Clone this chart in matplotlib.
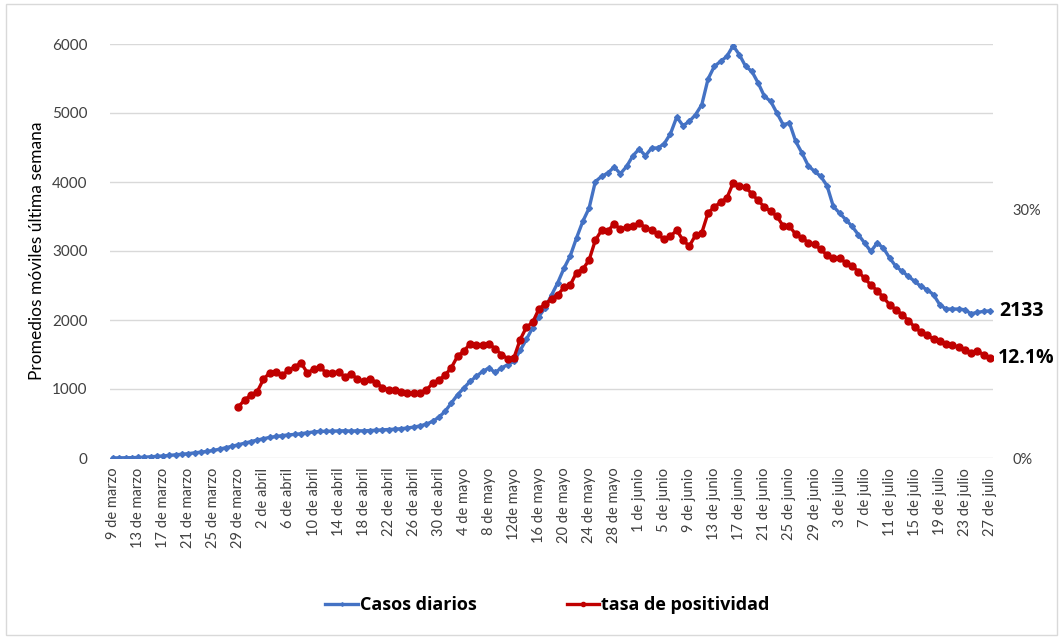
import numpy as np
import matplotlib
matplotlib.use("Agg")
import matplotlib.pyplot as plt
from matplotlib.patches import Rectangle

plt.rcParams['font.family'] = ['Lato', 'DejaVu Sans']

# promedio movil de casos diarios, 9 de marzo a 27 de julio
casos = [1, 2, 3, 5, 8, 12, 18, 24, 30, 38,
         45, 55, 63, 75, 85, 95, 110, 128, 150, 170,
         192, 215, 238, 260, 280, 298, 312, 325, 335, 342,
         352, 365, 378, 385, 388, 390, 392, 395, 390, 395,
         393, 398, 402, 408, 412, 418, 425, 435, 448, 465,
         490, 530, 590, 675, 797, 917, 1014, 1110, 1183, 1255,
         1304, 1241, 1304, 1352, 1400, 1560, 1720, 1890, 2050, 2180,
         2360, 2540, 2750, 2930, 3190, 3430, 3620, 4006, 4081, 4130,
         4217, 4120, 4226, 4381, 4478, 4381, 4493, 4493, 4555, 4700,
         4942, 4816, 4878, 4975, 5120, 5493, 5676, 5748, 5820, 5975,
         5845, 5676, 5603, 5435, 5241, 5169, 5000, 4830, 4855, 4588,
         4420, 4236, 4154, 4081, 3946, 3646, 3551, 3454, 3357, 3237,
         3116, 2994, 3116, 3043, 2898, 2777, 2705, 2632, 2560, 2487,
         2439, 2367, 2222, 2159, 2159, 2159, 2149, 2091, 2110, 2125,
         2133]

# tasa de positividad (%), empieza el 29 de marzo
nan = np.nan
positividad = [nan] * 20 + [
    6.2, 7.0, 7.6, 8.0, 9.5, 10.3, 10.4, 10.0, 10.6, 11.0,
    11.5, 10.3, 10.7, 11.0, 10.3, 10.3, 10.4, 9.8, 10.2, 9.5,
    9.3, 9.6, 9.1, 8.5, 8.2, 8.2, 8.0, 7.8, 7.8, 7.9,
    8.2, 9.0, 9.4, 10.0, 10.9, 12.3, 12.9, 13.8, 13.6, 13.6,
    13.8, 13.2, 12.5, 12.0, 12.1, 14.3, 15.8, 16.4, 18.0, 18.6,
    19.2, 19.7, 20.6, 20.9, 22.4, 22.8, 23.9, 26.3, 27.5, 27.4,
    28.3, 27.6, 27.9, 28.0, 28.4, 27.8, 27.5, 27.0, 26.4, 26.8,
    27.5, 26.3, 25.6, 26.9, 27.2, 29.6, 30.3, 30.9, 31.4, 33.2,
    32.9, 32.7, 31.9, 31.1, 30.3, 29.8, 29.2, 28.0, 28.0, 27.0,
    26.6, 26.0, 25.8, 25.2, 24.5, 24.1, 24.1, 23.6, 23.2, 22.5,
    21.7, 20.9, 20.2, 19.4, 18.5, 17.9, 17.3, 16.6, 15.8, 15.2,
    14.8, 14.4, 14.1, 13.8, 13.6, 13.4, 13.1, 12.7, 12.9, 12.5,
    12.1]

etiquetas = ["9 de marzo", "13 de marzo", "17 de marzo", "21 de marzo", "25 de marzo",
             "29 de marzo", "2 de abril", "6 de abril", "10 de abril", "14 de abril",
             "18 de abril", "22 de abril", "26 de abril", "30 de abril", "4 de mayo",
             "8 de mayo", "12de mayo", "16 de mayo", "20 de mayo", "24 de mayo",
             "28 de mayo", "1 de junio", "5 de junio", "9 de junio", "13 de junio",
             "17 de junio", "21 de junio", "25 de junio", "29 de junio", "3 de julio",
             "7 de julio", "11 de julio", "15 de julio", "19 de julio", "23 de julio",
             "27 de julio"]

azul = '#4472C4'
rojo = '#C00000'
gris = '#404040'
negrita = ['Open Sans', 'DejaVu Sans']

x = np.arange(len(casos))

fig = plt.figure(figsize=(10.63, 6.38), dpi=100)
fig.patches.append(Rectangle((0.006, 0.004), 0.988, 0.99, transform=fig.transFigure,
                             fill=False, edgecolor='#d9d9d9', linewidth=1))
ax = fig.add_axes([110 / 1063, 1 - 458 / 638, 883 / 1063, 414 / 638])

l1, = ax.plot(x, casos, color=azul, lw=2.4, marker='D', ms=3, label='Casos diarios')
ax.set_ylim(0, 6000)
ax.set_yticks(range(0, 6001, 1000))
ax.set_xlim(-0.5, len(casos) - 0.5)
ax.set_xticks(x[::4])
ax.set_xticklabels(etiquetas, rotation=90, fontsize=10.5, color=gris)
ax.tick_params(axis='x', length=0, pad=7)
ax.tick_params(axis='y', length=0, pad=16, labelsize=11, labelcolor=gris)
ax.grid(axis='y', color='#d9d9d9', lw=1)
ax.set_axisbelow(True)
for s in ax.spines.values():
    s.set_visible(False)
ax.set_ylabel('Promedios móviles última semana', fontsize=12.5, color='black', labelpad=5)

ax2 = ax.twinx()
l2, = ax2.plot(x, positividad, color=rojo, lw=2.4, marker='o', ms=5, label='tasa de positividad')
ax2.set_ylim(0, 50)
ax2.set_yticks([0, 30])
ax2.set_yticklabels(['0%', '30%'])
ax2.tick_params(axis='y', length=0, pad=14, labelsize=10.5, labelcolor=gris)
for s in ax2.spines.values():
    s.set_visible(False)

ax.text(len(casos) + 0.5, casos[-1], f'{casos[-1]}', fontsize=14, fontweight='bold',
        family=negrita, va='center', ha='left', clip_on=False)
ax2.text(len(casos) + 0.2, positividad[-1], f'{positividad[-1]}%', fontsize=14,
         fontweight='bold', family=negrita, va='center', ha='left', clip_on=False)

leg = fig.legend(handles=[l1, l2], loc='center', bbox_to_anchor=(0.515, 0.052), ncol=2,
                 frameon=False, handlelength=1.8, columnspacing=5.0, handletextpad=0.1,
                 markerscale=0.6, prop={'family': negrita, 'weight': 'bold', 'size': 13})

fig.savefig('out.png', dpi=100)
